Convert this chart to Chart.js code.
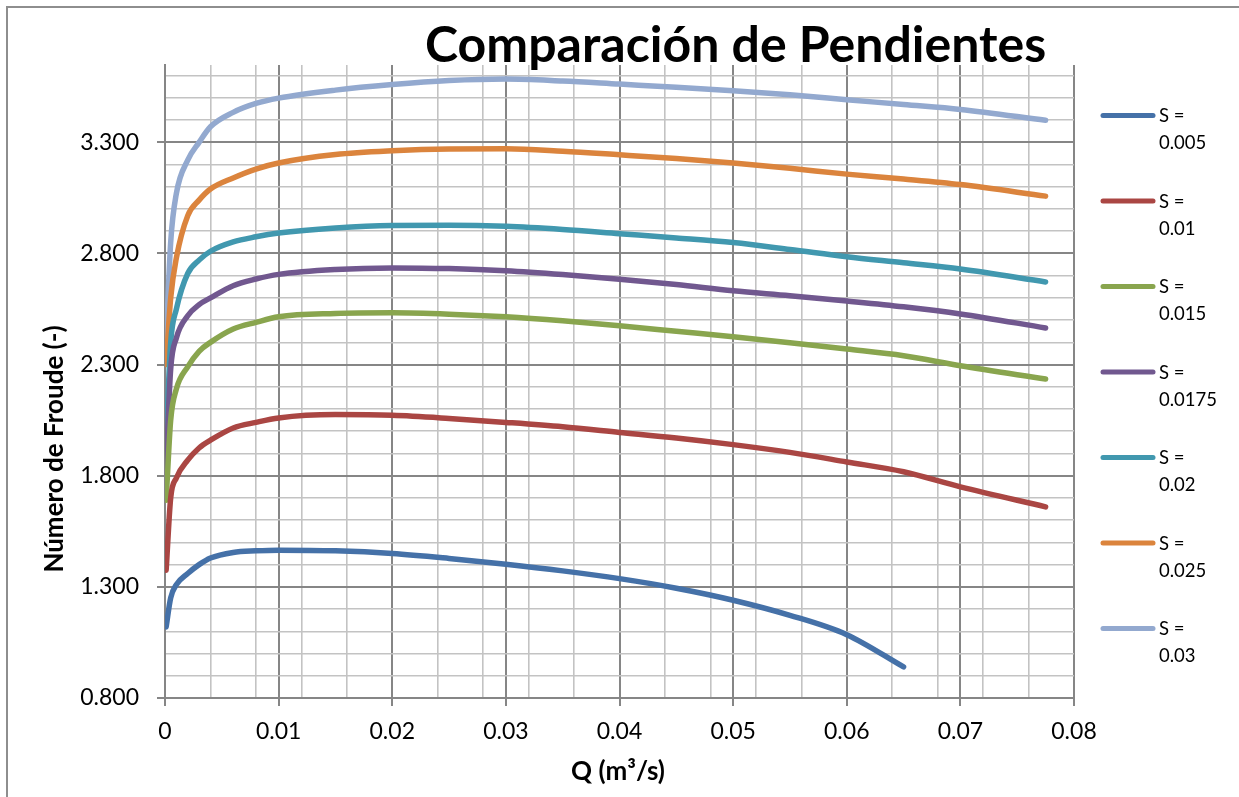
<!DOCTYPE html>
<html><head><meta charset="utf-8">
<script src="https://cdn.jsdelivr.net/npm/chart.js@4.4.1/dist/chart.umd.min.js"></script>
<style>
html,body{margin:0;padding:0;background:#fff;}
#wrap{position:relative;width:1239px;height:797px;overflow:hidden;background:#fff;}
#frame{position:absolute;left:6px;top:6px;width:1400px;height:1000px;border:2px solid #8e8e8e;box-sizing:border-box;}
canvas{position:absolute;left:0;top:0;}
</style></head>
<body><div id="wrap"><div id="frame"></div><canvas id="c" width="1239" height="797"></canvas></div>
<script>
// ---- data ----
const Q = [0.0001, 0.0005, 0.001, 0.002, 0.003, 0.004, 0.006, 0.008, 0.01, 0.015, 0.02, 0.025, 0.03, 0.035, 0.04, 0.045, 0.05, 0.055, 0.06, 0.065, 0.07, 0.0775];
const F_S0005  = [1.12, 1.25, 1.31, 1.36, 1.40, 1.43, 1.455, 1.462, 1.465, 1.462, 1.45, 1.428, 1.402, 1.372, 1.337, 1.294, 1.24, 1.172, 1.085, 0.94, null, null];
const F_S001   = [1.375, 1.70, 1.79, 1.87, 1.925, 1.96, 2.015, 2.04, 2.06, 2.075, 2.072, 2.058, 2.04, 2.02, 1.995, 1.97, 1.94, 1.905, 1.862, 1.818, 1.75, 1.66];
const F_S0015  = [1.69, 2.05, 2.19, 2.29, 2.36, 2.40, 2.46, 2.49, 2.515, 2.53, 2.533, 2.527, 2.515, 2.497, 2.475, 2.45, 2.425, 2.398, 2.37, 2.34, 2.295, 2.235];
const F_S00175 = [1.84, 2.28, 2.42, 2.52, 2.57, 2.60, 2.655, 2.685, 2.706, 2.728, 2.735, 2.732, 2.722, 2.705, 2.684, 2.66, 2.632, 2.61, 2.586, 2.56, 2.528, 2.465];
const F_S002   = [1.96, 2.40, 2.55, 2.71, 2.77, 2.81, 2.852, 2.875, 2.892, 2.915, 2.926, 2.927, 2.922, 2.908, 2.889, 2.87, 2.849, 2.818, 2.785, 2.758, 2.73, 2.672];
const F_S0025  = [2.30, 2.60, 2.78, 2.97, 3.04, 3.09, 3.14, 3.18, 3.207, 3.245, 3.262, 3.27, 3.271, 3.26, 3.244, 3.227, 3.207, 3.183, 3.157, 3.135, 3.11, 3.058];
const F_S003   = [2.40, 2.85, 3.07, 3.22, 3.30, 3.37, 3.435, 3.475, 3.499, 3.535, 3.56, 3.578, 3.585, 3.576, 3.562, 3.548, 3.532, 3.514, 3.492, 3.47, 3.448, 3.399];
const seriesLabels = ['S = 0.005', 'S = 0.01', 'S = 0.015', 'S = 0.0175', 'S = 0.02', 'S = 0.025', 'S = 0.03'];
const seriesValues = [F_S0005, F_S001, F_S0015, F_S00175, F_S002, F_S0025, F_S003];

const xMajor = [0, 0.01, 0.02, 0.03, 0.04, 0.05, 0.06, 0.07, 0.08];
const xTickLabels = ['0', '0.01', '0.02', '0.03', '0.04', '0.05', '0.06', '0.07', '0.08'];
const xMinor = [0.004, 0.008, 0.012, 0.016, 0.024, 0.028, 0.032, 0.036, 0.044, 0.048, 0.052, 0.056, 0.064, 0.068, 0.072, 0.076];
const yMajor = [0.8, 1.3, 1.8, 2.3, 2.8, 3.3];
const yTickLabels = ['0.800', '1.300', '1.800', '2.300', '2.800', '3.300'];
const yMinor = [0.9, 1.0, 1.1, 1.2, 1.4, 1.5, 1.6, 1.7, 1.9, 2.0, 2.1, 2.2, 2.4, 2.5, 2.6, 2.7, 2.9, 3.0, 3.1, 3.2, 3.4, 3.5, 3.6];

const chartTitle = 'Comparación de Pendientes';
const xTitle = 'Q (m³/s)';
const yTitle = 'Número de Froude (-)';

// ---- styles ----
const colors = ['#4571A8', '#AA4643', '#89A54E', '#71588F', '#4198AF', '#DB843D', '#93A9CF'];
const MAJ = '#868686', MIN = '#c3c3c3';
const FONT = 'Lato, "Open Sans", sans-serif';

const isIn = (v, arr) => arr.some(m => Math.abs(m - v) < 1e-9);

const datasets = seriesValues.map((vals, i) => ({
  label: seriesLabels[i],
  data: Q.map((q, j) => ({x: q, y: vals[j]})).filter(p => p.y !== null),
  borderColor: colors[i], backgroundColor: colors[i],
  borderWidth: 5.5, pointRadius: 0, pointHoverRadius: 0,
  tension: 0.4, cubicInterpolationMode: 'monotone',
  borderCapStyle: 'round', borderJoinStyle: 'round', fill: false
}));

const decor = {
  id: 'decor',
  afterDraw(chart) {
    const ctx = chart.ctx;
    ctx.save();
    ctx.fillStyle = '#000';
    ctx.font = 'bold 50px ' + FONT;
    ctx.textAlign = 'left'; ctx.textBaseline = 'alphabetic';
    ctx.fillText(chartTitle, 425, 62);

    ctx.font = 'bold 26px ' + FONT;
    ctx.textAlign = 'center'; ctx.textBaseline = 'middle';
    ctx.fillText(xTitle, 618, 772);
    ctx.save();
    ctx.translate(55, 449);
    ctx.rotate(-Math.PI / 2);
    ctx.fillText(yTitle, 0, 0);
    ctx.restore();

    // legend
    ctx.font = '18.5px ' + FONT;
    ctx.textAlign = 'left'; ctx.textBaseline = 'middle';
    chart.data.datasets.forEach((ds, i) => {
      const y = 115.5 + i * 85.5;
      ctx.strokeStyle = ds.borderColor; ctx.lineWidth = 5; ctx.lineCap = 'round';
      ctx.beginPath(); ctx.moveTo(1103, y); ctx.lineTo(1153, y); ctx.stroke();
      const parts = ds.label.split(' = ');
      ctx.fillStyle = '#000';
      ctx.fillText(parts[0] + ' =', 1159, y + 1);
      ctx.fillText(parts[1], 1159, y + 28);
    });
    ctx.restore();
  }
};

function gridOpts(major) {
  return {
    drawOnChartArea: true, drawTicks: true, tickLength: 8,
    color: c => isIn(c.tick.value, major) ? MAJ : MIN,
    lineWidth: c => isIn(c.tick.value, major) ? 2 : 1.6,
    tickColor: c => isIn(c.tick.value, major) ? MAJ : 'rgba(0,0,0,0)',
    tickWidth: 2
  };
}

function makeChart() {
  Chart.defaults.font.family = FONT;
  return new Chart(document.getElementById('c'), {
    type: 'scatter',
    data: {datasets},
    plugins: [decor],
    options: {
      responsive: false, animation: false, devicePixelRatio: 1,
      layout: {padding: {top: 65, right: 165, left: 0, bottom: 0}},
      plugins: {legend: {display: false}, title: {display: false}, tooltip: {enabled: false}},
      datasets: {scatter: {showLine: true}},
      scales: {
        x: {
          type: 'linear', min: 0, max: 0.08,
          afterBuildTicks: s => { s.ticks = xMajor.concat(xMinor).sort((a, b) => a - b).map(v => ({value: v})); },
          afterFit: s => { s.height = 99; },
          ticks: {autoSkip: false, maxRotation: 0, padding: 12, color: '#000', font: {size: 23},
                  callback: v => { const k = xMajor.findIndex(m => Math.abs(m - v) < 1e-9); return k >= 0 ? xTickLabels[k] : ''; }},
          grid: gridOpts(xMajor),
          border: {display: true, color: MAJ, width: 2}
        },
        y: {
          type: 'linear', min: 0.8, max: 3.648,
          afterBuildTicks: s => { s.ticks = yMajor.concat(yMinor).sort((a, b) => a - b).map(v => ({value: v})); },
          afterFit: s => { s.width = 165; },
          ticks: {autoSkip: false, padding: 18, color: '#000', font: {size: 23},
                  callback: v => { const k = yMajor.findIndex(m => Math.abs(m - v) < 1e-9); return k >= 0 ? yTickLabels[k] : ''; }},
          grid: gridOpts(yMajor),
          border: {display: true, color: MAJ, width: 2}
        }
      }
    }
  });
}

const chart = makeChart();
if (document.fonts && document.fonts.load) {
  Promise.all([document.fonts.load('23px Lato'), document.fonts.load('bold 24px Lato')])
    .catch(() => {}).then(() => chart.update());
}
</script>
</body></html>
